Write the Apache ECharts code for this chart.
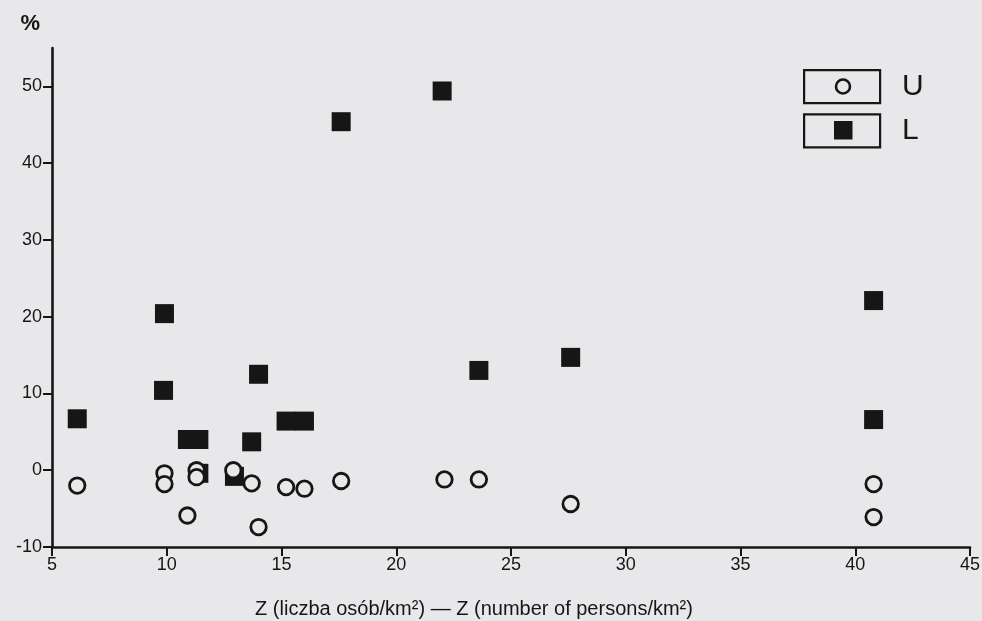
<!DOCTYPE html>
<html>
<head>
<meta charset="utf-8">
<script src="https://cdn.jsdelivr.net/npm/echarts@6/dist/echarts.min.js"></script>
<style>
html,body{margin:0;padding:0;background:#e8e8ea;}
#chart{width:982px;height:621px;}
</style>
</head>
<body>
<div id="chart"></div>
<script>
// Data (x = Z persons/km², y = %)
const seriesNames = ['U', 'L'];
const seriesL = [
  [6.1, 6.7], [9.9, 20.4], [9.86, 10.4], [10.9, 4.0], [11.4, 4.0],
  [14.0, 12.5], [13.7, 3.7], [15.2, 6.4], [16.0, 6.4], [17.6, 45.4],
  [22.0, 49.4], [23.6, 13.0], [27.6, 14.7], [40.8, 22.1], [40.8, 6.6],
  [11.4, -0.4], [12.95, -0.8]
];
const seriesU = [
  [6.1, -2.0], [9.9, -0.4], [9.9, -1.8], [10.9, -5.9], [11.3, 0.0],
  [11.3, -0.9], [12.9, 0.0], [13.7, -1.7], [14.0, -7.4], [15.2, -2.2],
  [16.0, -2.4], [17.6, -1.4], [22.1, -1.2], [23.6, -1.2], [27.6, -4.4],
  [40.8, -1.8], [40.8, -6.1]
];
const xTicks = [5, 10, 15, 20, 25, 30, 35, 40, 45];
const yTicks = [-10, 0, 10, 20, 30, 40, 50];
const xTitle = 'Z (liczba osób/km²) — Z (number of persons/km²)';
const yTitle = '%';

const ink = '#161616';
const font = '"Liberation Sans",Arial,sans-serif';

const chart = echarts.init(document.getElementById('chart'));
chart.setOption({
  backgroundColor: '#e8e8ea',
  animation: false,
  grid: { left: 52, right: 12, top: 48, bottom: 74, containLabel: false, outerBoundsMode: 'none' },
  xAxis: {
    type: 'value', min: 5, max: 45, interval: 5,
    name: xTitle, nameLocation: 'middle', nameGap: 52,
    nameTextStyle: { color: ink, fontSize: 20, fontFamily: font, padding: [0, 74, 0, 0] },
    axisLine: { onZero: false, lineStyle: { color: ink, width: 2.6 } },
    axisTick: { show: true, length: 9, lineStyle: { color: ink, width: 2 }, customValues: xTicks },
    axisLabel: { color: ink, fontSize: 18, fontFamily: font, margin: 9, customValues: xTicks },
    splitLine: { show: false }
  },
  yAxis: {
    type: 'value', min: -10, max: 55, interval: 10,
    name: yTitle, nameLocation: 'end', nameGap: 13,
    nameTextStyle: { color: ink, fontSize: 22, fontWeight: 'bold', fontFamily: font, align: 'right', padding: [0, 12, 0, 0] },
    axisLine: { onZero: false, lineStyle: { color: ink, width: 2.6 } },
    axisTick: { show: true, length: 9, lineStyle: { color: ink, width: 2 }, customValues: yTicks },
    axisLabel: { color: ink, fontSize: 18, fontFamily: font, margin: 10, customValues: yTicks },
    splitLine: { show: false }
  },
  legend: {
    orient: 'vertical', left: 803, top: 69, padding: 0,
    itemWidth: 76, itemHeight: 33, itemGap: 9,
    data: [{ name: 'U', icon: 'rect' }, { name: 'L', icon: 'rect' }],
    itemStyle: { color: 'rgba(0,0,0,0)', borderColor: ink, borderWidth: 2.2 },
    textStyle: { color: ink, fontSize: 30, fontFamily: font, padding: [0, 0, 0, 17] },
    selectedMode: false
  },
  graphic: [
    { type: 'circle', shape: { cx: 843, cy: 86.5, r: 7 }, style: { fill: 'none', stroke: ink, lineWidth: 2.6 }, z: 100 },
    { type: 'rect', shape: { x: 834, y: 121, width: 18.5, height: 18.5 }, style: { fill: ink }, z: 100 }
  ],
  series: [
    {
      name: 'L', type: 'scatter', data: seriesL,
      symbol: 'rect', symbolSize: 19,
      itemStyle: { color: ink, opacity: 1 }, z: 2
    },
    {
      name: 'U', type: 'scatter', data: seriesU,
      symbol: 'circle', symbolSize: 15.5,
      itemStyle: { color: '#e8e8ea', borderColor: ink, borderWidth: 2.8, opacity: 1 }, z: 3
    }
  ]
});
</script>
</body>
</html>
